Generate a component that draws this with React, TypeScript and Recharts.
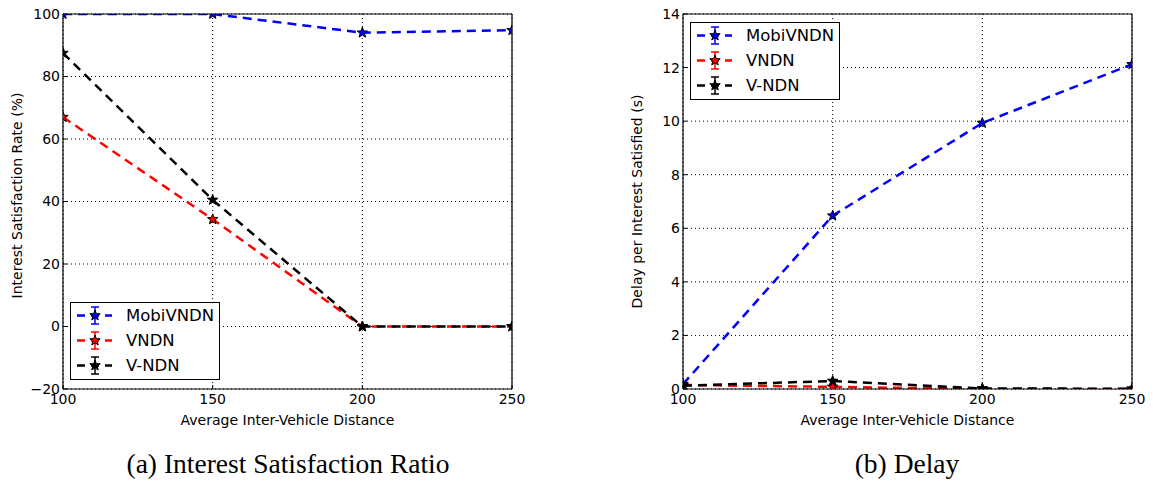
import React from "react";
import { LineChart, Line, XAxis, YAxis, CartesianGrid, Legend } from "recharts";

// x categories (average inter-vehicle distance)
const distances = [100, 150, 200, 250];
const distTicks = [100, 150, 200, 250];

// (a) interest satisfaction rate, %
const satMobiVNDN = [100, 100, 94, 94.8];
const satVNDN = [67, 34.3, 0, 0];
const satVNDN2 = [87.5, 40.5, 0, 0]; // V-NDN
const satTicks = [-20, 0, 20, 40, 60, 80, 100];

// (b) delay per interest satisfied, s
const delayMobiVNDN = [0.18, 6.47, 9.93, 12.12];
const delayVNDN = [0.15, 0.08, 0.0, 0.0];
const delayVNDN2 = [0.12, 0.3, 0.02, 0.01]; // V-NDN
const delayTicks = [0, 2, 4, 6, 8, 10, 12, 14];

const seriesNames = ["MobiVNDN", "VNDN", "V-NDN"];
const seriesColors = ["#0000ff", "#ff0000", "#000000"];

const FONT = "'DejaVu Sans', sans-serif";

function starPoints(cx: number, cy: number, r: number) {
  const pts: string[] = [];
  for (let k = 0; k < 10; k++) {
    const rr = k % 2 === 0 ? r : r * 0.42;
    const a = -Math.PI / 2 + (k * Math.PI) / 5;
    pts.push(`${cx + rr * Math.cos(a)},${cy + rr * Math.sin(a)}`);
  }
  return pts.join(" ");
}

const makeRows = (a: number[], b: number[], c: number[]) =>
  distances.map((d, i) => ({ dist: d, MobiVNDN: a[i], VNDN: b[i], "V-NDN": c[i] }));

const satData = makeRows(satMobiVNDN, satVNDN, satVNDN2);
const delayData = makeRows(delayMobiVNDN, delayVNDN, delayVNDN2);

// matplotlib style minus sign
const fmtTick = (v: number) => String(v).replace("-", "\u2212");

const LegendBox = () => (
  <div
    style={{
      width: 150,
      height: 78,
      boxSizing: "border-box",
      border: "1px solid #000",
      background: "#fff",
      fontFamily: FONT,
      fontSize: 16.5,
      color: "#000",
    }}
  >
    {seriesNames.map((name, i) => (
      <div key={name} style={{ height: 25, display: "flex", alignItems: "center" }}>
        <svg width={35} height={25} style={{ marginLeft: 6, overflow: "visible" }}>
          <line x1={0} x2={35} y1={12.5} y2={12.5} stroke={seriesColors[i]} strokeWidth={2.5} strokeDasharray="8 6" />
          <line x1={18} x2={18} y1={4} y2={21} stroke={seriesColors[i]} strokeWidth={1.5} />
          <line x1={14} x2={22} y1={4} y2={4} stroke={seriesColors[i]} strokeWidth={1.5} />
          <line x1={14} x2={22} y1={21} y2={21} stroke={seriesColors[i]} strokeWidth={1.5} />
          <polygon points={starPoints(18, 12.5, 5.5)} fill={seriesColors[i]} stroke="#000" strokeWidth={1} />
        </svg>
        <span style={{ marginLeft: 14, lineHeight: "25px" }}>{name}</span>
      </div>
    ))}
  </div>
);

const XTitle = ({ viewBox, text }: any) => (
  <text
    x={viewBox.x + viewBox.width / 2}
    y={viewBox.y + 36}
    textAnchor="middle"
    fontFamily={FONT}
    fontSize={14}
    fill="#000"
  >
    {text}
  </text>
);

const YTitle = ({ viewBox, text, shift }: any) => {
  const cy = viewBox.y + viewBox.height / 2 + (shift || 0);
  return (
    <text
      x={17}
      y={cy}
      transform={`rotate(-90, 17, ${cy})`}
      textAnchor="middle"
      dominantBaseline="central"
      fontFamily={FONT}
      fontSize={14}
      fill="#000"
    >
      {text}
    </text>
  );
};

interface PanelProps {
  data: any[];
  yDomain: [number, number];
  yTicks: number[];
  yTitle: string;
  yShift: number;
  legendTop: number;
}

function Panel({ data, yDomain, yTicks, yTitle, yShift, legendTop }: PanelProps) {
  const tickStyle = { fill: "#000", fontSize: 14, fontFamily: FONT };
  return (
    <LineChart width={532} height={429} data={data} margin={{ top: 0, right: 0, left: 0, bottom: 0 }}>
      <CartesianGrid xAxisId="b" yAxisId="l" stroke="#000" strokeDasharray="1 3" strokeWidth={1} />
      <XAxis
        xAxisId="b"
        dataKey="dist"
        type="number"
        domain={[100, 250]}
        ticks={distTicks}
        allowDataOverflow
        height={40}
        tick={tickStyle}
        tickSize={-4}
        tickMargin={9}
        tickLine={{ stroke: "#000" }}
        axisLine={{ stroke: "#000", strokeWidth: 1.2 }}
        label={<XTitle text="Average Inter-Vehicle Distance" />}
      />
      <XAxis
        xAxisId="t"
        orientation="top"
        dataKey="dist"
        type="number"
        domain={[100, 250]}
        ticks={distTicks}
        allowDataOverflow
        height={14}
        tick={false}
        tickSize={-4}
        tickLine={{ stroke: "#000" }}
        axisLine={{ stroke: "#000", strokeWidth: 1.2 }}
      />
      <YAxis
        yAxisId="l"
        type="number"
        domain={yDomain}
        ticks={yTicks}
        allowDataOverflow
        width={63}
        tick={tickStyle}
        tickFormatter={fmtTick}
        tickSize={-4}
        tickMargin={7}
        tickLine={{ stroke: "#000" }}
        axisLine={{ stroke: "#000", strokeWidth: 1.2 }}
        label={<YTitle text={yTitle} shift={yShift} />}
      />
      <YAxis
        yAxisId="r"
        orientation="right"
        type="number"
        domain={yDomain}
        ticks={yTicks}
        allowDataOverflow
        width={20}
        tick={false}
        tickSize={-4}
        tickLine={{ stroke: "#000" }}
        axisLine={{ stroke: "#000", strokeWidth: 1.2 }}
      />
      <Legend
        layout="vertical"
        align="center"
        verticalAlign="middle"
        wrapperStyle={{ left: 70, top: legendTop, width: 150, height: 78 }}
        content={() => <LegendBox />}
      />
      {seriesNames.map((name, i) => (
        <Line
          key={name}
          xAxisId="b"
          yAxisId="l"
          type="linear"
          dataKey={name}
          stroke={seriesColors[i]}
          strokeWidth={2.5}
          strokeDasharray="9 6"
          isAnimationActive={false}
          dot={(p: any) => (
            <polygon
              key={`${name}-${p.index}`}
              points={starPoints(p.cx, p.cy, 5.5)}
              fill={seriesColors[i]}
              stroke="#000"
              strokeWidth={1}
            />
          )}
          activeDot={false}
        />
      ))}
    </LineChart>
  );
}

export default function App() {
  return (
    <div
      style={{
        position: "absolute",
        left: 0,
        top: 0,
        width: 1153,
        height: 483,
        background: "#fff",
        overflow: "hidden",
      }}
    >
      <div style={{ position: "absolute", left: 0, top: 0 }}>
        <Panel
          data={satData}
          yDomain={[-20, 100]}
          yTicks={satTicks}
          yTitle="Interest Satisfaction Rate (%)"
          yShift={-6}
          legendTop={302}
        />
      </div>
      <div style={{ position: "absolute", left: 620, top: 0 }}>
        <Panel
          data={delayData}
          yDomain={[0, 14]}
          yTicks={delayTicks}
          yTitle="Delay per Interest Satisfied (s)"
          yShift={0}
          legendTop={22}
        />
      </div>
      <svg width={1153} height={483} style={{ position: "absolute", left: 0, top: 0, pointerEvents: "none" }}>
        <text x={288} y={473} textAnchor="middle" fontFamily="'Liberation Serif', serif" fontSize={27.5} fill="#000">
          (a) Interest Satisfaction Ratio
        </text>
        <text x={907} y={473} textAnchor="middle" fontFamily="'Liberation Serif', serif" fontSize={27.5} fill="#000">
          (b) Delay
        </text>
      </svg>
    </div>
  );
}
